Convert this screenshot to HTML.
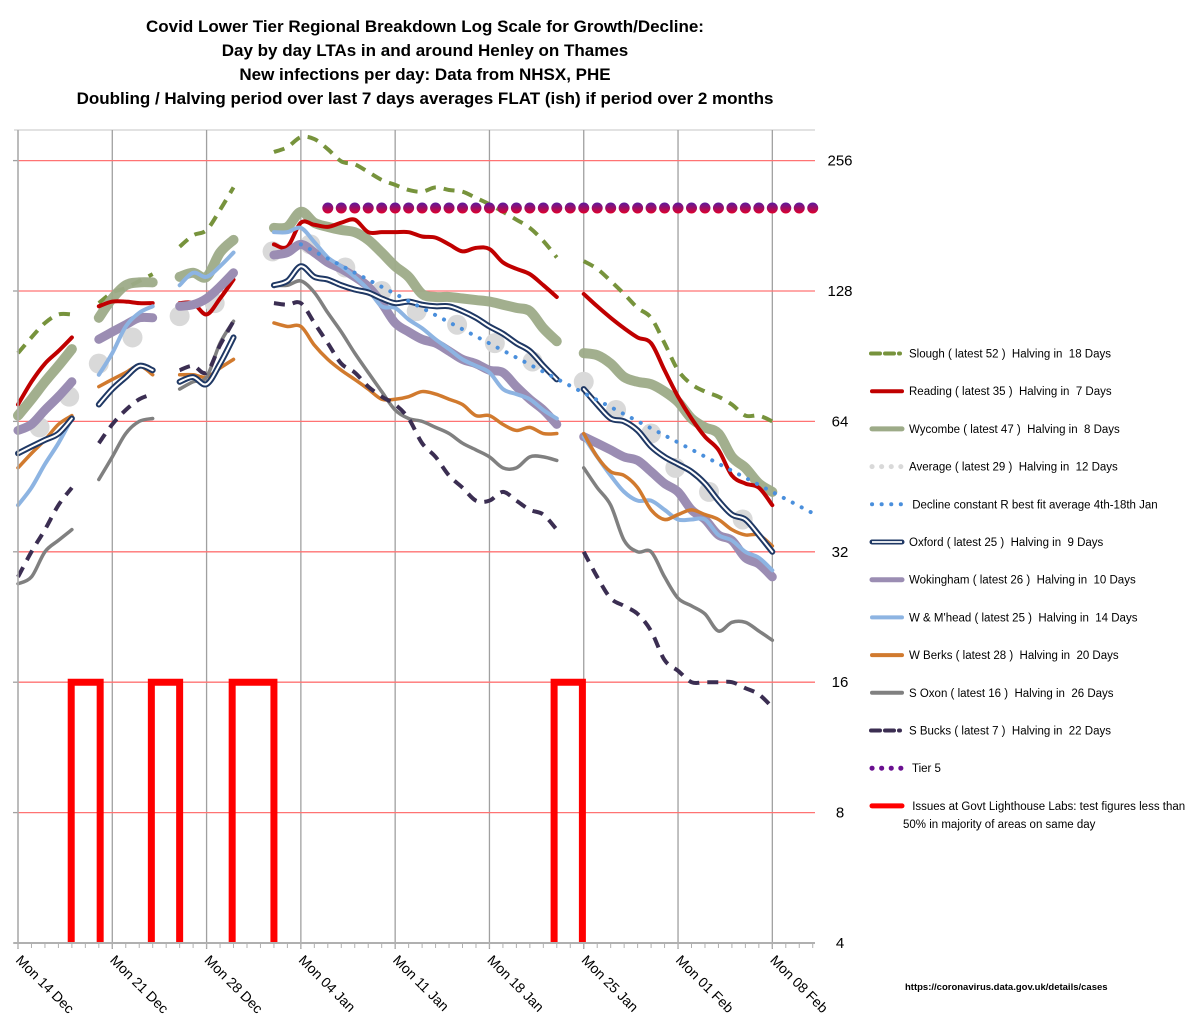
<!DOCTYPE html>
<html><head><meta charset="utf-8"><style>
html,body{margin:0;padding:0;background:#fff;}
svg{display:block;font-family:"Liberation Sans",sans-serif;}
</style></head><body>
<svg id="chart" width="1200" height="1026" viewBox="0 0 1200 1026" xmlns="http://www.w3.org/2000/svg">
<defs><linearGradient id="t5g" x1="0" y1="0" x2="0" y2="1"><stop offset="0" stop-color="#5a1aa0"/><stop offset="1" stop-color="#e0002a"/></linearGradient></defs>
<g font-weight="bold" font-size="17" text-anchor="middle" fill="#000">
<text x="425" y="32">Covid Lower Tier Regional Breakdown Log Scale for Growth/Decline:</text>
<text x="425" y="56">Day by day LTAs in and around Henley on Thames</text>
<text x="425" y="80">New infections per day: Data from NHSX, PHE</text>
<text x="425" y="104">Doubling / Halving period over last 7 days averages FLAT (ish) if period over 2 months</text>
</g>
<g id="grid"></g><g id="marks"></g><g id="axes"></g><g id="legend"></g>
<text x="905" y="990" font-size="9.5" font-weight="bold">https://coronavirus.data.gov.uk/details/cases</text>
</svg>
<script>
const xTickLabels=["Mon 14 Dec","Mon 21 Dec","Mon 28 Dec","Mon 04 Jan","Mon 11 Jan","Mon 18 Jan","Mon 25 Jan","Mon 01 Feb","Mon 08 Feb"];
const yTicks=[4,8,16,32,64,128,256];
const slough=[92,100,108,113,113,null,120,127,130,135,140,null,162,172,177,197,222,null,null,268,275,290,287,272,255,251,241,231,225,219,217,222,219,217,210,203,195,187,179,167,153,null,150,144,135,126,117,111,97,84,78,75,73,70,66,66,64];
const reading=[70,79,87,93,100,null,118,121,121,120,120,null,120,120,113,123,136,null,null,164,162,184,182,180,184,187,175,175,175,175,171,170,164,158,161,160,149,144,140,132,124,null,126,118,111,105,100,97,84,73,65,59,55,48,46,45,41];
const wycombe=[66,72,79,86,94,null,111,123,132,134,134,null,138,141,138,157,168,null,null,179,180,195,184,180,177,175,168,157,146,138,126,124,124,123,122,121,119,117,115,105,98,null,92,91,87,81,79,78,75,71,65,62,60,53,50,46,44];
const oxford=[54,56,58,60,65,null,70,76,81,86,84,null,79,81,78,87,100,null,null,132,135,146,138,136,132,129,127,123,120,121,119,118,118,115,111,106,102,97,93,86,80,null,76,70,65,64,61,56,53,51,49,46,42,39,38,35,32];
const wokingham=[61,63,68,73,79,null,99,103,107,111,111,null,118,119,123,131,141,null,null,155,157,164,157,149,144,138,131,120,108,103,99,97,93,89,87,84,83,77,72,68,63,null,59,57,55,53,52,49,46,44,40,38,35,34,31,30,28];
const wmhead=[41,45,51,57,65,null,82,92,106,114,118,null,132,141,138,146,157,null,null,175,175,179,166,153,146,138,129,118,117,110,105,99,94,89,86,83,76,74,72,68,65,null,59,53,48,44,42,42,40,38,38,38,35,34,32,31,29];
const wberks=[50,54,58,63,66,null,77,80,83,86,82,null,82,82,81,85,89,null,null,108,106,106,96,89,84,80,76,72,72,73,75,74,72,70,66,66,63,61,62,60,60,null,60,53,49,48,45,40,38,39,40,39,38,36,35,35,33];
const soxon=[27,28,32,34,36,null,47,53,60,64,65,null,76,79,81,97,109,null,null,132,132,135,127,114,103,92,83,75,68,65,64,62,60,57,55,53,50,50,53,53,52,null,50,45,41,34,32,32,28,25,24,23,21,22,22,21,20];
const sbucks=[28,32,36,41,45,null,57,63,68,72,74,null,84,86,83,96,109,null,null,120,119,120,108,97,87,83,77,73,70,65,57,53,48,45,42,42,44,42,40,39,36,null,32,28,25,24,23,21,18,17,16,16,16,16,15.5,15,14];
const avgDays=[1.6,3.8,6,8.5,12,14.6,18.9,21.7,24.3,27,29.6,32.6,35.4,38.2,42,44.4,47,48.8,51.3,53.8];
const avgValues=[62,73,87,100,112,120,158,164,145,128,115,107,97,88,79,68,60,50,44,38];
const declineDays=[21,59.2];
const declineValues=[164,39];
const tier5Days=[23,59];
const tier5Value=199;
const issueStarts=[3.95,9.9,15.9,39.8];
const issueEnds=[6.1,12,19,41.9];
const issueValue=16;

const NS="http://www.w3.org/2000/svg";
const X0=18,DX=13.47,YB=943,YP=130.4;
const xs=d=>X0+d*DX;
const ys=v=>YB-YP*Math.log2(v/4);
function mk(tag,attrs,parent){const e=document.createElementNS(NS,tag);for(const k in attrs)e.setAttribute(k,attrs[k]);parent.appendChild(e);return e;}
const gridG=document.getElementById('grid'),marksG=document.getElementById('marks'),axesG=document.getElementById('axes'),legendG=document.getElementById('legend');

const topBorder=mk('line',{x1:14,x2:815,y1:130,y2:130,stroke:'#d9d9d9','stroke-width':1.5},gridG);


xTickLabels.forEach((t,i)=>{
  const x=xs(i*7);
  const l=mk('line',{x1:x,x2:x,y1:130,y2:YB+6,stroke:'#a0a0a0','stroke-width':1.3},gridG);
  
  
  const tx=mk('text',{x:x-3,y:YB+18,'font-size':14,transform:`rotate(45 ${x-3} ${YB+18})`},axesG);
  tx.textContent=t;
  
  
});
yTicks.forEach(v=>{
  const y=ys(v);
  const l=mk('line',{x1:X0,x2:815,y1:y,y2:y,stroke:'#ff7373','stroke-width':1.3},gridG);
  
  
  const t=mk('line',{x1:13,x2:X0,y1:y,y2:y,stroke:'#a0a0a0','stroke-width':1.3},gridG);
  
  
  const tx=mk('text',{x:840,y:y+5,'font-size':15,'text-anchor':'middle'},axesG);
  tx.textContent=v;
  
  
});
for(let d=0;d<=59;d++){const x=xs(d);const m=mk('line',{x1:x,x2:x,y1:YB,y2:YB+5,stroke:'#b0b0b0','stroke-width':1},gridG);
  
  }
const axX=mk('line',{x1:14,x2:815,y1:YB,y2:YB,stroke:'#b0b0b0','stroke-width':2},axesG);


const axY=mk('line',{x1:X0,x2:X0,y1:130,y2:YB,stroke:'#b0b0b0','stroke-width':1.5},axesG);



issueStarts.forEach((s,i)=>{
  const x1=xs(s),x2=xs(issueEnds[i]),yt=ys(issueValue);
  const p=mk('path',{d:`M${x1},${YB} L${x1},${yt} L${x2},${yt} L${x2},${YB}`,fill:'none',stroke:'#ff0000','stroke-width':7},marksG);
  
  
});

function segs(arr){const out=[];let cur=[];arr.forEach((v,d)=>{if(v==null){if(cur.length)out.push(cur);cur=[];}else cur.push([xs(d),ys(v)]);});if(cur.length)out.push(cur);return out;}
function smooth(p){if(p.length<2)return '';let s=`M${p[0][0]},${p[0][1]}`;for(let i=0;i<p.length-1;i++){const p0=p[i-1]||p[i],p1=p[i],p2=p[i+1],p3=p[i+2]||p2;
 s+=` C${p1[0]+(p2[0]-p0[0])/6},${p1[1]+(p2[1]-p0[1])/6} ${p2[0]-(p3[0]-p1[0])/6},${p2[1]-(p3[1]-p1[1])/6} ${p2[0]},${p2[1]}`;}return s;}
function series(arr,name,styles){
  const g=mk('g',{},marksG);
  
  
  segs(arr).forEach(pts=>{const d=smooth(pts);styles.forEach(st=>{mk('path',Object.assign({d:d,fill:'none','stroke-linecap':'round','stroke-linejoin':'round'},st),g);});});
}
avgDays.forEach((d,i)=>{const c=mk('circle',{cx:xs(d),cy:ys(avgValues[i]),r:10,fill:'#d9d9d9'},marksG);
  
  });
series(slough,'slough-line',[{stroke:'#77933c','stroke-width':4,'stroke-dasharray':'11 8','stroke-linecap':'butt'}]);
series(wycombe,'wycombe-line',[{stroke:'#9dab88','stroke-width':10,opacity:0.95}]);
series(reading,'reading-line',[{stroke:'#c00000','stroke-width':4}]);
series(wokingham,'wokingham-line',[{stroke:'#9b8db3','stroke-width':9}]);
series(wmhead,'wmhead-line',[{stroke:'#8db4e2','stroke-width':4}]);
series(wberks,'wberks-line',[{stroke:'#d17a2e','stroke-width':3.5}]);
series(soxon,'soxon-line',[{stroke:'#808080','stroke-width':3.5}]);
series(sbucks,'sbucks-line',[{stroke:'#3b2e52','stroke-width':4,'stroke-dasharray':'11 8','stroke-linecap':'butt'}]);
series(oxford,'oxford-line',[{stroke:'#1f3864','stroke-width':6},{stroke:'#ffffff','stroke-width':2}]);
const dl=mk('line',{x1:xs(declineDays[0]),y1:ys(declineValues[0]),x2:xs(declineDays[1]),y2:ys(declineValues[1]),stroke:'#4a8fdc','stroke-width':4,'stroke-dasharray':'0.1 10','stroke-linecap':'round'},marksG);


for(let d=tier5Days[0];d<=tier5Days[1];d++){const c=mk('circle',{cx:xs(d),cy:ys(tier5Value),r:5.5,fill:'url(#t5g)'},marksG);
  
  }

const legItems=[
 ['Slough ( latest 52 )  Halving in  18 Days','dash','#77933c',4],
 ['Reading ( latest 35 )  Halving in  7 Days','line','#c00000',4],
 ['Wycombe ( latest 47 )  Halving in  8 Days','line','#9dab88',5],
 ['Average ( latest 29 )  Halving in  12 Days','dot','#d9d9d9',5],
 [' Decline constant R best fit average 4th-18th Jan','dot','#4a8fdc',4],
 ['Oxford ( latest 25 )  Halving in  9 Days','double','#1f3864',5],
 ['Wokingham ( latest 26 )  Halving in  10 Days','line','#9b8db3',5],
 ['W & M\'head ( latest 25 )  Halving in  14 Days','line','#8db4e2',4],
 ['W Berks ( latest 28 )  Halving in  20 Days','line','#d17a2e',4],
 ['S Oxon ( latest 16 )  Halving in  26 Days','line','#808080',4],
 ['S Bucks ( latest 7 )  Halving in  22 Days','dash','#3b2e52',4],
 [' Tier 5','dot','#6a1090',5],
 [' Issues at Govt Lighthouse Labs: test figures less than','line','#ff0000',5]
];
legItems.forEach((it,i)=>{
  const y=353.5+i*37.7;
  const g=mk('g',{},legendG);
  
  
  const [lab,kind,col,w]=it;
  if(kind==='dash')mk('line',{x1:871,x2:900,y1:y,y2:y,stroke:col,'stroke-width':w,'stroke-dasharray':'9 5','stroke-linecap':'round'},g);
  else if(kind==='dot')mk('line',{x1:872,x2:902,y1:y,y2:y,stroke:col,'stroke-width':w,'stroke-dasharray':'0.1 9.5','stroke-linecap':'round'},g);
  else if(kind==='double'){mk('line',{x1:872,x2:902,y1:y,y2:y,stroke:col,'stroke-width':w,'stroke-linecap':'round'},g);mk('line',{x1:872,x2:902,y1:y,y2:y,stroke:'#fff','stroke-width':1.8},g);}
  else mk('line',{x1:872,x2:902,y1:y,y2:y,stroke:col,'stroke-width':w,'stroke-linecap':'round'},g);
  const t=mk('text',{x:909,y:y+4,'font-size':11.5,style:'white-space:pre'},g);
  t.textContent=lab;
});
const t2=mk('text',{x:903,y:828,'font-size':11.5},legendG);
t2.textContent='50% in majority of areas on same day';


</script>
</body></html>
